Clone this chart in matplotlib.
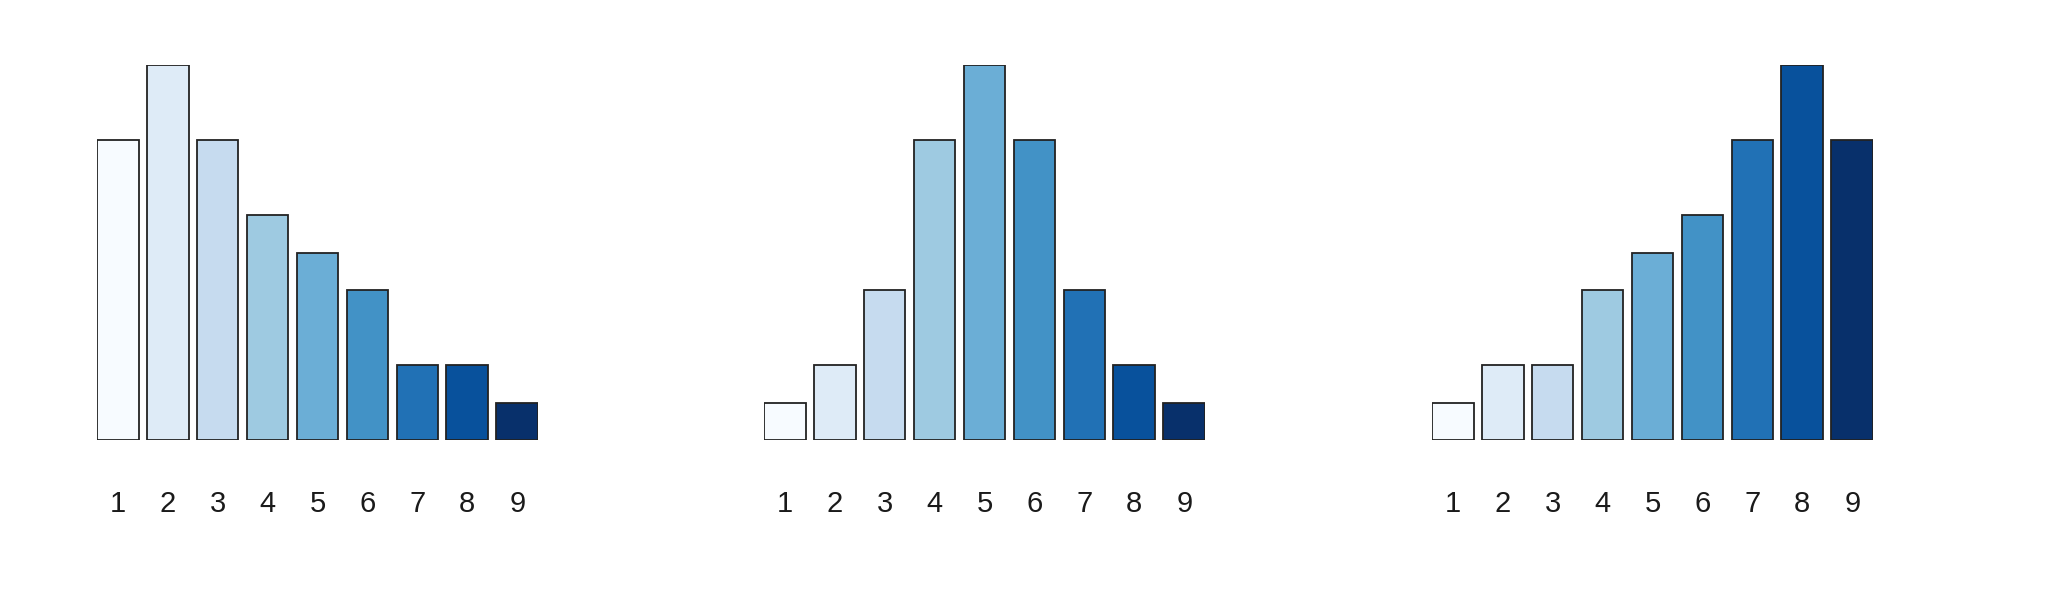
import matplotlib.pyplot as plt
import matplotlib.transforms as mtransforms

plt.rcParams['font.family'] = ['Liberation Sans', 'DejaVu Sans']

labels = ["1", "2", "3", "4", "5", "6", "7", "8", "9"]
left_skew = [8, 10, 8, 6, 5, 4, 2, 2, 1]
symmetric = [1, 2, 4, 8, 10, 8, 4, 2, 1]
right_skew = [1, 2, 2, 4, 5, 6, 8, 10, 8]
blues = ["#f7fbff", "#deebf7", "#c6dbef", "#9ecae1", "#6baed6",
         "#4292c6", "#2171b5", "#08519c", "#08306b"]

W, H = 2052, 590
fig = plt.figure(figsize=(W / 100, H / 100), dpi=100)

panel_left = [97, 764, 1432]
panel_width = 441
bottom_px = 440
top_px = 65

# R barplot style positions: width 1, space 0.2
xpos = [0.7 + 1.2 * i for i in range(len(labels))]

for left, values in zip(panel_left, [left_skew, symmetric, right_skew]):
    ax = fig.add_axes([left / W, (H - bottom_px) / H,
                       panel_width / W, (bottom_px - top_px) / H])
    ax.bar(xpos, values, width=1.0, color=blues, edgecolor="#222222",
           linewidth=1.3)
    ax.set_xlim(0.2, 10.8)
    ax.set_ylim(0, 10)
    ax.axis("off")
    trans = mtransforms.blended_transform_factory(ax.transData, ax.transAxes)
    off = mtransforms.offset_copy(trans, fig=fig, y=-72, units="dots")
    for x, lab in zip(xpos, labels):
        ax.text(x, 0, lab, transform=off, ha="center", va="baseline",
                fontsize=21, color="#1a1a1a")

fig.savefig("out.png", dpi=100)
